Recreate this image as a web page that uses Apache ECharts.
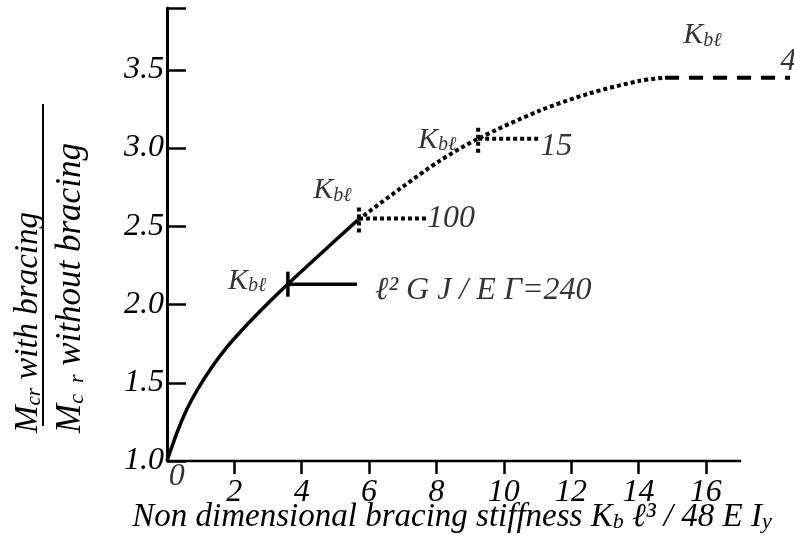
<!DOCTYPE html>
<html>
<head>
<meta charset="utf-8">
<script src="https://cdn.jsdelivr.net/npm/echarts@6/dist/echarts.min.js"></script>
<style>
html,body{margin:0;padding:0;background:#fff;}
#c{width:794px;height:553px;}
</style>
</head>
<body>
<div id="c"></div>
<script>
// ---------- data ----------
const xTickValues = [2, 4, 6, 8, 10, 12, 14, 16];
const xLabelValues = [2, 4, 6, 8, 10, 12, 14, 16];
const yTickLabels = ['1.0','1.5','2.0','2.5','3.0','3.5'];
const xAxisEnd = 17.05;
const xTitle = 'Non dimensional bracing stiffness K{s|b} ℓ³ / 48 E I{s|y}';
const yTitleNum = '{m|M}{s|cr}{m| with bracing}';
const yTitleDen = '{m|M}{s|c  r}{m| without bracing}';
// x-axis baseline (drawn from 0 to the end of the axis)
const xBaseline = [[0, 1], [xAxisEnd, 1]];
// main curve: solid part
const solidCurve = [[0,1.000],[0.30,1.183],[0.59,1.330],[0.89,1.452],[1.34,1.603],[1.78,1.728],[2.38,1.872],[2.97,2.002],[3.59,2.131],[4.45,2.302],[5.67,2.541]];
// dotted continuation
const dottedCurve = [[5.67,2.541],[6.92,2.74],[8.11,2.92],[9.24,3.06],[11.08,3.24],[12.56,3.35],[14.05,3.43],[14.79,3.45]];
// dashed plateau
const dashedTail = [[14.79,3.45],[18.5,3.45]];
// markers
const m240V = [[3.59,2.05],[3.59,2.21]];
const m240H = [[3.59,2.13],[5.64,2.13]];
const m100V = [[5.70,2.46],[5.70,2.64]];
const m100H = [[5.70,2.55],[7.72,2.55]];
const m15V  = [[9.24,2.97],[9.24,3.13]];
const m15H  = [[9.24,3.06],[11.08,3.06]];
// annotation texts [x, y, text]
const notes = [
  [1.81, 2.15, '{k|K}{s|bℓ}'],
  [6.18, 2.09, '{n|ℓ² G J / E Γ=240}'],
  [4.34, 2.73, '{k|K}{s|bℓ}'],
  [7.72, 2.55, '{n|100}'],
  [7.45, 3.05, '{k|K}{s|bℓ}'],
  [11.08, 3.01, '{n|15}'],
  [15.33, 3.72, '{k|K}{s|bℓ}'],
  [18.21, 3.55, '{n|4}'],
  [0.05, 0.90, '{n|0}']
];

// ---------- styles ----------
const FF = '"Liberation Serif", "Times New Roman", serif';
const rich = {
  k: {fontFamily: FF, fontStyle: 'italic', fontSize: 30, color: '#000', verticalAlign: 'bottom'},
  s: {fontFamily: FF, fontStyle: 'italic', fontSize: 20, color: '#000', verticalAlign: 'bottom'},
  n: {fontFamily: FF, fontStyle: 'italic', fontSize: 32, color: '#000'}
};

function lineSeries(data, type, width, smooth) {
  return {
    type: 'line', data: data, symbol: 'none', silent: true, clip: false, smooth: smooth || false,
    lineStyle: {color: '#000', width: width, type: type, cap: 'butt'},
    z: 3
  };
}
function titleRich(size, subSize) {
  return {
    m: {fontFamily: FF, fontStyle: 'italic', fontSize: size, fill: '#000', verticalAlign: 'bottom'},
    s: {fontFamily: FF, fontStyle: 'italic', fontSize: subSize, fill: '#000', verticalAlign: 'bottom'}
  };
}

const chart = echarts.init(document.getElementById('c'), null, {renderer: 'canvas'});
const option = {
  backgroundColor: '#fff',
  animation: false,
  grid: {left: 167, right: 4, top: 8, bottom: 92, containLabel: false, outerBoundsMode: 'none'},
  xAxis: {
    type: 'value', min: 0, max: 18.5,
    axisLine: {show: false},
    axisTick: {show: true, inside: false, length: 13, customValues: xTickValues, lineStyle: {color: '#000', width: 2.5}},
    splitLine: {show: false},
    axisLabel: {
      margin: 16, color: '#000', fontFamily: FF, fontStyle: 'italic', fontSize: 32,
      customValues: xLabelValues,
      formatter: function (v) { return String(v); }
    }
  },
  yAxis: {
    type: 'value', min: 1, max: 3.895, interval: 0.5,
    axisLine: {show: true, lineStyle: {color: '#000', width: 3}},
    axisTick: {show: true, inside: true, length: 19, lineStyle: {color: '#000', width: 2.5}},
    splitLine: {show: false},
    axisLabel: {
      margin: 3, color: '#000', fontFamily: FF, fontStyle: 'italic', fontSize: 32,
      formatter: function (v) { const i = Math.round((v - 1) / 0.5); return (Math.abs(v - 1 - i*0.5) < 1e-6 && i < yTickLabels.length) ? yTickLabels[i] : ''; }
    }
  },
  series: [
    lineSeries(xBaseline, 'solid', 2.5),
    lineSeries(solidCurve, 'solid', 3.5, 0.3),
    lineSeries(dottedCurve, [4, 3], 4, 0.3),
    lineSeries(dashedTail, [14, 10], 4),
    lineSeries(m240V, 'solid', 3.5),
    lineSeries(m240H, 'solid', 3.5),
    lineSeries(m100V, [4, 3], 4),
    lineSeries(m100H, [4, 3], 4),
    lineSeries(m15V, [4, 3], 4),
    lineSeries(m15H, [4, 3], 4),
    {
      type: 'scatter', symbolSize: 0, silent: true, clip: false, z: 5,
      data: notes.map(n => ({value: [n[0], n[1]], label: {formatter: n[2]}})),
      label: {show: true, position: 'right', distance: 0, rich: rich, color: '#000'}
    }
  ],
  graphic: [
    {type: 'text', x: 452, y: 517,
     style: {text: xTitle, align: 'center', verticalAlign: 'middle', rich: titleRich(33, 22),
       font: 'italic 33px ' + FF, fill: '#000'}},
    {type: 'text', x: 28, y: 433, rotation: Math.PI / 2,
     style: {text: yTitleNum, align: 'left', verticalAlign: 'middle', rich: titleRich(33, 21)}},
    {type: 'line', shape: {x1: 43, y1: 104, x2: 43, y2: 426}, style: {stroke: '#000', lineWidth: 2}},
    {type: 'text', x: 71, y: 433, rotation: Math.PI / 2,
     style: {text: yTitleDen, align: 'left', verticalAlign: 'middle', rich: titleRich(35, 22)}}
  ]
};
chart.setOption(option);
</script>
</body>
</html>
